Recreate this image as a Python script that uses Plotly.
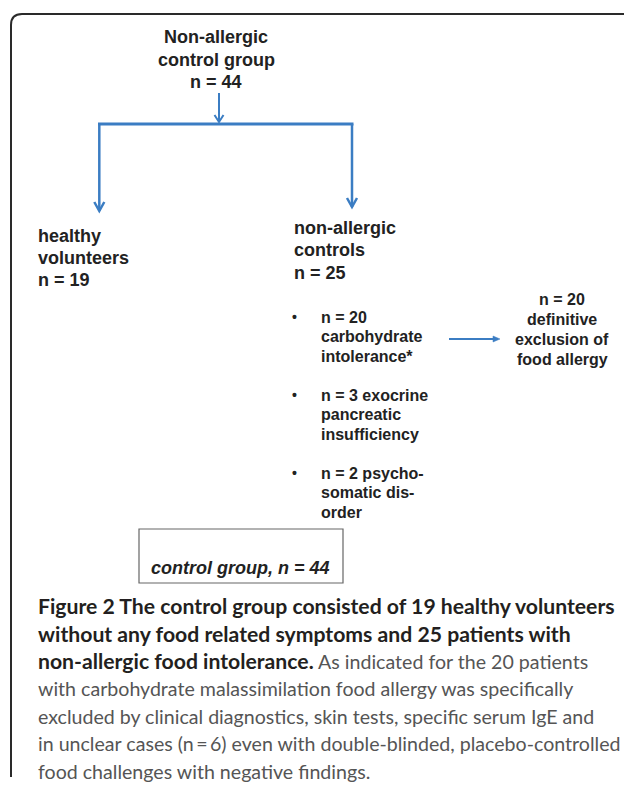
import plotly.graph_objects as go

# ---- data ----
total_n = 44
healthy_n = 19
nonallergic_n = 25
sub_n = [20, 3, 2]
sub_lines = [["carbohydrate", "intolerance*"],
             ["pancreatic", "insufficiency"],
             ["somatic dis-", "order"]]
sub_first = ["", " exocrine", " psycho-"]
excluded_n = 20
caption_bold = ["Figure 2 The control group consisted of 19 healthy volunteers",
                "without any food related symptoms and 25 patients with",
                "non-allergic food intolerance."]
caption_regular = [" As indicated for the 20 patients",
                   "with carbohydrate malassimilation food allergy was specifically",
                   "excluded by clinical diagnostics, skin tests, specific serum IgE and",
                   "in unclear cases (n\u2009=\u20096) even with double-blinded, placebo-controlled",
                   "food challenges with negative findings."]

W, H = 624, 785
BLUE = "#3B7DC3"
DARK = "#222222"
FONT = "Liberation Sans, Arial, sans-serif"
CAP_FONT = "Lato, sans-serif"

fig = go.Figure()
ann = []
shapes = []


def txt(x, y, s, size=18, anchor="left", color=DARK, family=FONT):
    ann.append(dict(x=x, y=y, xref="x", yref="y", text=s, showarrow=False,
                    xanchor=anchor, yanchor="middle",
                    font=dict(size=size, color=color, family=family)))


# frame
shapes.append(dict(type="path", path="M 11,777 L 11,25 Q 11,14 22,14 L 630,14",
                   line=dict(color="#2a2a2a", width=2)))

# top node
for yy, s in zip([37, 60, 82], ["Non-allergic", "control group", f"n = {total_n}"]):
    txt(216, yy, f"<b>{s}</b>", 18, "center")

# connectors
shapes.append(dict(type="line", x0=219, x1=219, y0=93, y1=122, line=dict(color=BLUE, width=2)))
shapes.append(dict(type="path", path="M 214.5,115 L 219,122 L 223.5,115", line=dict(color=BLUE, width=2)))
shapes.append(dict(type="line", x0=98, x1=353.5, y0=124, y1=124, line=dict(color=BLUE, width=3)))
for xx, tip in [(99.3, 211), (352, 207)]:
    shapes.append(dict(type="line", x0=xx, x1=xx, y0=124, y1=tip, line=dict(color=BLUE, width=2.5)))
    shapes.append(dict(type="path", path=f"M {xx-5},{tip-9} L {xx},{tip} L {xx+5},{tip-9}",
                       line=dict(color=BLUE, width=2.5)))

# left node
for yy, s in zip([236, 258, 280], ["healthy", "volunteers", f"n = {healthy_n}"]):
    txt(36, yy, f"<b>{s}</b>", 18, "left")

# middle node
for yy, s in zip([228, 250, 273], ["non-allergic", "controls", f"n = {nonallergic_n}"]):
    txt(292, yy, f"<b>{s}</b>", 18, "left")

# bullets
bullet_y = [317, 395, 473]
for by, n, first, rest in zip(bullet_y, sub_n, sub_first, sub_lines):
    txt(294, by, "<b>\u2022</b>", 14, "center")
    txt(319, by, f"<b>n = {n}{first}</b>", 16, "left")
    for k, s in enumerate(rest):
        txt(319, by + 19.5 * (k + 1), f"<b>{s}</b>", 16, "left")

# small arrow
shapes.append(dict(type="line", x0=449, x1=494, y0=339, y1=339, line=dict(color=BLUE, width=2)))
shapes.append(dict(type="path", path="M 493,336 L 500,339 L 493,342 Z",
                   line=dict(color=BLUE, width=0.5), fillcolor=BLUE))

# right node
for yy, s in zip([299, 319, 339, 359], [f"n = {excluded_n}", "definitive", "exclusion of", "food allergy"]):
    txt(562, yy, f"<b>{s}</b>", 16, "center")

# box
shapes.append(dict(type="rect", x0=139, x1=343, y0=529, y1=583, line=dict(color="#666666", width=1.2)))
txt(149, 568, f"<b><i>control group, n = {total_n}</i></b>", 18, "left")

# caption
cap_y = [606, 633.5, 661, 688.5, 716, 743.5, 771]
GRAY = "#555555"
BSPAN = "<span style='font-size:21.2px'><b>{}</b></span>"
cap_lines = [BSPAN.format(caption_bold[0]),
             BSPAN.format(caption_bold[1]),
             BSPAN.format(caption_bold[2]) + f"<span style='color:{GRAY}'>{caption_regular[0]}</span>"]
cap_lines += [f"<span style='color:{GRAY}'>{s}</span>" for s in caption_regular[1:]]
for yy, s in zip(cap_y, cap_lines):
    txt(36, yy, s, 19.6, "left", color="#231f20", family=CAP_FONT)

fig.update_layout(width=W, height=H, margin=dict(l=0, r=0, t=0, b=0),
                  paper_bgcolor="white", plot_bgcolor="white",
                  xaxis=dict(range=[0, W], visible=False, fixedrange=True),
                  yaxis=dict(range=[H, 0], visible=False, fixedrange=True),
                  annotations=ann, shapes=shapes, showlegend=False)
fig.write_html("out.html", config={"displayModeBar": False},
               post_script="document.body.style.margin='0px';"
                           "document.documentElement.style.overflow='hidden';")
